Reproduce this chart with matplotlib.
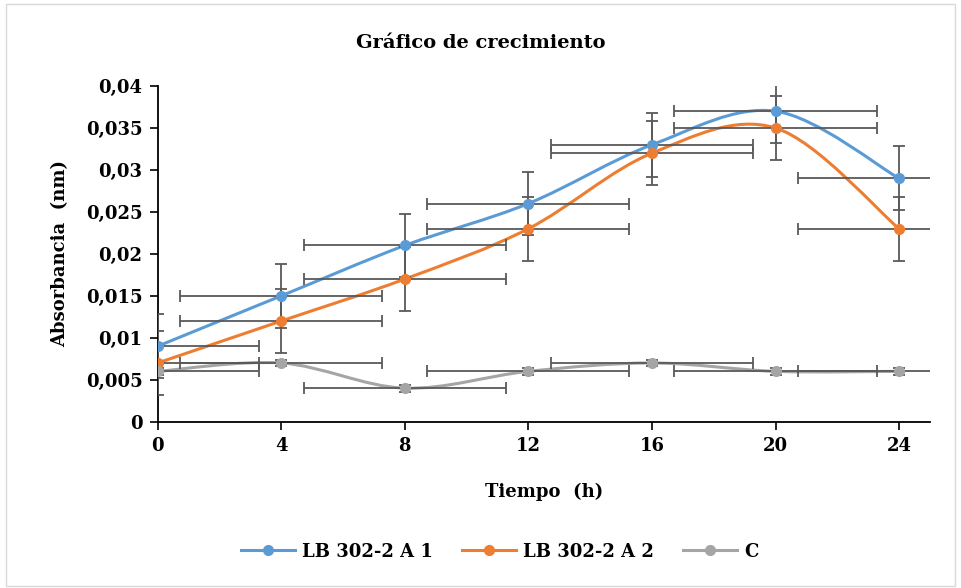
import numpy as np
import matplotlib
matplotlib.use("Agg")
import matplotlib.pyplot as plt
from matplotlib.path import Path
from matplotlib.patches import PathPatch, Rectangle

# data
tiempo = [0, 4, 8, 12, 16, 20, 24]
lb_a1 = [0.009, 0.015, 0.021, 0.026, 0.033, 0.037, 0.029]
lb_a2 = [0.007, 0.012, 0.017, 0.023, 0.032, 0.035, 0.023]
control = [0.006, 0.007, 0.004, 0.006, 0.007, 0.006, 0.006]
err_x = [3.27, 3.27, 3.27]
err_y = [0.0038, 0.0038, 0.0004]
names = ['LB 302-2 A 1', 'LB 302-2 A 2', 'C']
colors = ['#5B9BD5', '#ED7D31', '#A5A5A5']
xticks = [0, 4, 8, 12, 16, 20, 24]
yticks = [0, 0.005, 0.01, 0.015, 0.02, 0.025, 0.03, 0.035, 0.04]
ytick_labels = ['0', '0,005', '0,01', '0,015', '0,02', '0,025', '0,03', '0,035', '0,04']

plt.rcParams['font.family'] = ['DejaVu Serif']
plt.rcParams['font.weight'] = 'bold'


def smooth_path(xs, ys):
    # excel-like smoothed line (catmull-rom as cubic bezier)
    n = len(xs)
    verts = [(xs[0], ys[0])]
    codes = [Path.MOVETO]
    for i in range(n - 1):
        a = max(i - 1, 0)
        d = min(i + 2, n - 1)
        c1 = (xs[i] + (xs[i + 1] - xs[a]) / 6, ys[i] + (ys[i + 1] - ys[a]) / 6)
        c2 = (xs[i + 1] - (xs[d] - xs[i]) / 6, ys[i + 1] - (ys[d] - ys[i]) / 6)
        verts += [c1, c2, (xs[i + 1], ys[i + 1])]
        codes += [Path.CURVE4] * 3
    return Path(verts, codes)


fig = plt.figure(figsize=(9.61, 5.88), dpi=100)
ax = fig.add_axes([0.1641, 0.2828, 0.8036, 0.5709])

series = [lb_a1, lb_a2, control]
handles = []
for vals, ex, ey, name, col in zip(series, err_x, err_y, names, colors):
    ax.add_patch(PathPatch(smooth_path(tiempo, vals), facecolor='none',
                           edgecolor=col, lw=2.2, zorder=2, capstyle='round'))
    ax.errorbar(tiempo, vals, xerr=ex, yerr=ey, fmt='none', ecolor='#595959',
                elinewidth=1.3, capsize=4, capthick=1.3, zorder=3)
    ax.plot(tiempo, vals, 'o', color=col, ms=7, zorder=4)
    handles.append(plt.Line2D([], [], color=col, lw=2.2, marker='o', ms=7, label=name))

ax.set_xlim(0, 25)
ax.set_ylim(0, 0.04)
ax.set_xticks(xticks)
ax.set_yticks(yticks)
ax.set_yticklabels(ytick_labels)
ax.tick_params(direction='out', length=6, width=1.2, labelsize=13, pad=5)
for s in ['top', 'right']:
    ax.spines[s].set_visible(False)
for s in ['left', 'bottom']:
    ax.spines[s].set_linewidth(1.3)

ax.set_xlabel('Tiempo  (h)', fontsize=13, fontweight='bold', labelpad=20)
ax.set_ylabel('Absorbancia  (nm)', fontsize=13, fontweight='bold', labelpad=12)
fig.text(0.5, 0.927, 'Gráfico de crecimiento', ha='center', va='center',
         fontsize=14, fontweight='bold')

fig.legend(handles=handles, loc='center', bbox_to_anchor=(0.52, 0.062), ncol=3,
           frameon=False, fontsize=13, handlelength=3, handletextpad=0.4,
           columnspacing=1.6)

fig.patches.append(Rectangle((0.006, 0.004), 0.988, 0.99, transform=fig.transFigure,
                             fill=False, edgecolor='#d9d9d9', lw=1))

fig.savefig('out.png', dpi=100)
